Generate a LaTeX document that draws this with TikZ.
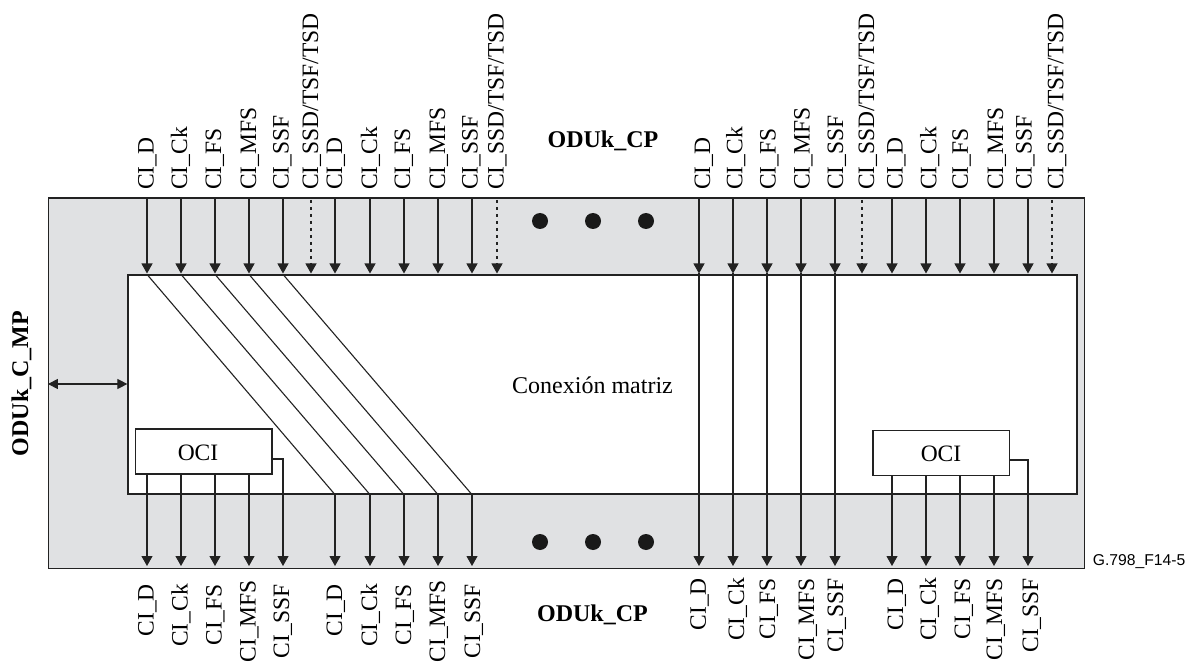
\documentclass[tikz,border=0pt]{standalone}
\usepackage{fontspec}
\setmainfont{Liberation Serif}
\newfontfamily\arialfont{Liberation Sans}
\usetikzlibrary{arrows.meta}
\definecolor{panelgray}{HTML}{E0E1E3}
\definecolor{inkline}{HTML}{222222}
\tikzset{
  x=1pt,y=-1pt,
  wire/.style={draw=inkline,line width=1.1pt},
  arrowwire/.style={wire,-{Triangle[length=10pt,width=11pt]}},
  dashwire/.style={arrowwire,dash pattern=on 3pt off 4pt},
  siglabel/.style={font=\fontsize{23.5}{23.5}\selectfont,inner sep=0pt,rotate=90},
  toplabel/.style={siglabel,anchor=base west},
  botlabel/.style={siglabel,anchor=base east},
  blockbox/.style={draw=inkline,line width=1.1pt,fill=white,minimum height=45pt,inner sep=0pt},
  blocktext/.style={font=\fontsize{23.5}{23.5}\selectfont,inner sep=0pt,anchor=base},
  titletext/.style={font=\bfseries\fontsize{24}{24}\selectfont,inner sep=0pt,anchor=base},
  dotmark/.style={circle,fill=black!90,minimum size=16pt,inner sep=0pt}
}
\begin{document}
\begin{tikzpicture}
\useasboundingbox (0,0) rectangle (1192,663);
\node[draw=inkline,line width=1.2pt,fill=panelgray,minimum width=1036pt,minimum height=370.3pt,inner sep=0pt] (outer) at (566.5,383.15) {};
\node[draw=inkline,line width=1.2pt,fill=white,minimum width=949pt,minimum height=219pt,inner sep=0pt] (matrix) at (602.5,384.5) {};
\node[font=\fontsize{24}{24}\selectfont,inner sep=0pt,anchor=base] (conn) at (592.5,393) {Conexión matriz};
\node[blockbox,minimum width=136.5pt] (ocil) at (203.75,451.5) {};
\node[blocktext] (ocilt) at (198,460) {OCI};
\node[blockbox,minimum width=136.5pt] (ocir) at (941.25,452.75) {};
\node[blocktext] (ocirt) at (941,461) {OCI};
\node[titletext] (cptop) at (603,148) {ODUk\_CP};
\node[titletext] (cpbot) at (592.5,621) {ODUk\_CP};
\node[titletext,rotate=90] (mp) at (28,383.5) {ODUk\_C\_MP};
\node[font=\arialfont\fontsize{15.7}{15.7}\selectfont,inner sep=0pt,anchor=base east] (fig) at (1185.5,565) {G.798\_F14-5};
\foreach \x [count=\i] in {540,593,646}{
  \node[dotmark] (dt\i) at (\x,221) {};
  \node[dotmark] (db\i) at (\x,542) {};
}
% top signals
\foreach \a/\b/\t [count=\i] in {
 147/153.5/CI\_D,181/187/CI\_Ck,215/221/CI\_FS,249/256/CI\_MFS,283/288.5/CI\_SSF,
 335/342/CI\_D,370/377/CI\_Ck,404/410/CI\_FS,438/445/CI\_MFS,472/477.5/CI\_SSF,
 699/710/CI\_D,733/742.4/CI\_Ck,767/775.6/CI\_FS,801/809.5/CI\_MFS,835/843/CI\_SSF,
 892/902.7/CI\_D,926/936.3/CI\_Ck,960/967.8/CI\_FS,994/1003/CI\_MFS,1028/1031.5/CI\_SSF}{
  \node[toplabel] (tl\i) at (\b,190) {\t};
  \coordinate (ts\i) at (\a,198);
  \coordinate (te\i) at (\a,273.5);
  \draw[arrowwire] (ts\i) -- (te\i);
}
\foreach \a/\b [count=\i] in {311/318,497/503.5,862/874,1052/1063.4}{
  \node[toplabel] (sl\i) at (\b,190) {CI\_SSD/TSF/TSD};
  \coordinate (ss\i) at (\a,200);
  \coordinate (se\i) at (\a,273.5);
  \draw[dashwire] (ss\i) -- (se\i);
}
% bottom signals
\foreach \a/\b/\y/\t [count=\i] in {
 147/153.5/584/CI\_D,181/187.5/584/CI\_Ck,215/221.5/584/CI\_FS,249/255.7/580/CI\_MFS,283/289/584/CI\_SSF,
 335/342/584/CI\_D,370/377/584/CI\_Ck,404/411/584/CI\_FS,438/445/580/CI\_MFS,472/480/584/CI\_SSF,
 699/705.8/578/CI\_D,733/744/578/CI\_Ck,767/775/578/CI\_FS,801/814/578/CI\_MFS,835/843/578/CI\_SSF,
 892/903/578/CI\_D,926/936/578/CI\_Ck,960/970/578/CI\_FS,994/1002/578/CI\_MFS,1028/1038/578/CI\_SSF}{
  \node[botlabel] (bl\i) at (\b,\y) {\t};
  \coordinate (be\i) at (\a,566);
}
% left OCI outputs
\foreach \i in {1,2,3,4}{ \draw[arrowwire] (te\i |- ocil.south) -- (be\i); }
\draw[arrowwire] (ocil.east |- 0,459) -- (te5 |- 0,459) -- (be5);
% right OCI outputs
\foreach \i in {16,17,18,19}{ \draw[arrowwire] (te\i |- ocir.south) -- (be\i); }
\draw[arrowwire] (ocir.east |- 0,460) -- (te20 |- 0,460) -- (be20);
% diagonals through the matrix
\foreach \i [evaluate=\i as \j using int(\i+5)] in {1,2,3,4,5}{
  \draw[wire] (te\i |- matrix.north) -- (te\j |- matrix.south);
  \draw[arrowwire] (te\j |- matrix.south) -- (be\j);
}
% straight through
\foreach \i in {11,12,13,14,15}{ \draw[arrowwire] (te\i) -- (be\i); }
\draw[wire,{Triangle[length=10pt,width=10pt]}-{Triangle[length=10pt,width=10pt]}] (outer.west |- 0,384) -- (matrix.west |- 0,384);
\end{tikzpicture}
\end{document}
